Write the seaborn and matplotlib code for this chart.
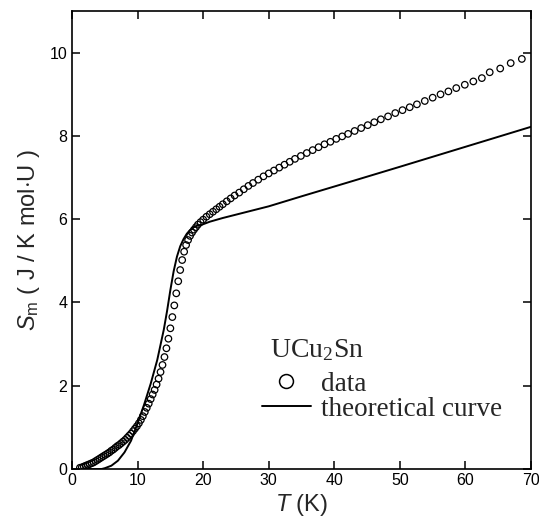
import numpy as np
import pandas as pd
import seaborn as sns
import matplotlib.pyplot as plt
from matplotlib.lines import Line2D

T_data = [1.2, 1.5, 1.8, 2.1, 2.4, 2.7, 3.0, 3.3, 3.6, 3.9, 4.2, 4.5, 4.8, 5.1, 5.4,
          5.7, 6.0, 6.3, 6.6, 6.9, 7.2, 7.5, 7.8, 8.1, 8.4, 8.7, 9.0, 9.3, 9.6, 9.9,
          10.2, 10.5, 10.8, 11.1, 11.4, 11.7, 12.0, 12.3, 12.6, 12.9, 13.2, 13.5, 13.8,
          14.1, 14.4, 14.7, 15.0, 15.3, 15.6, 15.9, 16.2, 16.5, 16.8, 17.1, 17.4, 17.7,
          18.0, 18.3, 18.6, 18.9, 19.2, 19.6, 20.0, 20.5, 21.0, 21.5, 22.0, 22.5, 23.0,
          23.6, 24.2, 24.8, 25.5, 26.2, 26.9, 27.6, 28.4, 29.2, 30.0, 30.8, 31.6, 32.4,
          33.2, 34.0, 34.9, 35.8, 36.7, 37.6, 38.5, 39.4, 40.3, 41.2, 42.1, 43.1, 44.1,
          45.1, 46.1, 47.1, 48.2, 49.3, 50.4, 51.5, 52.6, 53.8, 55.0, 56.2, 57.4, 58.6,
          59.9, 61.2, 62.5, 63.7, 65.3, 66.9, 68.6]
S_data = [0.03, 0.04, 0.06, 0.08, 0.10, 0.12, 0.14, 0.16, 0.19, 0.22, 0.25, 0.28, 0.31,
          0.34, 0.37, 0.40, 0.44, 0.47, 0.51, 0.55, 0.58, 0.62, 0.66, 0.70, 0.75, 0.80,
          0.85, 0.91, 0.97, 1.03, 1.10, 1.18, 1.27, 1.37, 1.47, 1.57, 1.68, 1.79, 1.90,
          2.03, 2.17, 2.33, 2.50, 2.69, 2.90, 3.13, 3.38, 3.65, 3.93, 4.22, 4.51, 4.78,
          5.02, 5.22, 5.38, 5.50, 5.60, 5.68, 5.75, 5.81, 5.87, 5.93, 5.99, 6.06, 6.12,
          6.18, 6.24, 6.30, 6.36, 6.43, 6.50, 6.57, 6.64, 6.72, 6.80, 6.87, 6.95, 7.03,
          7.10, 7.17, 7.24, 7.31, 7.38, 7.45, 7.52, 7.59, 7.66, 7.73, 7.80, 7.86, 7.93,
          7.99, 8.05, 8.12, 8.19, 8.26, 8.33, 8.40, 8.47, 8.55, 8.62, 8.69, 8.76, 8.84,
          8.92, 9.00, 9.07, 9.15, 9.23, 9.31, 9.39, 9.53, 9.62, 9.75, 9.85]

# theoretical curve
T_theory = [2.0, 4.5, 5.0, 6.0, 7.0, 8.0, 9.0, 10.0, 11.0, 12.0, 13.0, 14.0, 14.5, 15.0,
            15.5, 16.0, 16.5, 17.0, 17.5, 18.0, 18.5, 19.0, 20.0, 21.0, 23.0, 26.0, 30.0,
            35.0, 42.0, 50.0, 60.0, 70.0]
S_theory = [0.0, 0.0, 0.02, 0.08, 0.20, 0.40, 0.68, 1.10, 1.55, 2.05, 2.62, 3.35, 3.80,
            4.30, 4.75, 5.10, 5.35, 5.52, 5.65, 5.74, 5.80, 5.84, 5.88, 5.94, 6.03, 6.15,
            6.31, 6.55, 6.88, 7.26, 7.74, 8.22]

data = pd.DataFrame({'T': T_data, 'S': S_data})
theory = pd.DataFrame({'T': T_theory, 'S': S_theory})

sns.set_theme(style='ticks')
plt.rcParams['font.family'] = ['Liberation Sans', 'DejaVu Sans']
plt.rcParams['mathtext.fontset'] = 'custom'
plt.rcParams['mathtext.rm'] = 'Liberation Sans'
plt.rcParams['mathtext.it'] = 'Liberation Sans:italic'
plt.rcParams['mathtext.sf'] = 'Liberation Sans'

fig = plt.figure(figsize=(5.39, 5.27), dpi=100)
ax = fig.add_axes([0.1336, 0.110, 0.8516, 0.869])

sns.lineplot(data=theory, x='T', y='S', sort=False, color='black', linewidth=1.4, ax=ax)
sns.scatterplot(data=data, x='T', y='S', marker='o', s=22, facecolors='none',
                edgecolor='black', linewidth=0.9, ax=ax, zorder=3)

ax.set_xlim(0, 70)
ax.set_ylim(0, 11)
ax.set_xticks(range(0, 71, 10))
ax.set_yticks(range(0, 11, 2))
ax.tick_params(direction='in', length=6, width=1.1, top=True, right=True,
               labelsize=11.5, colors='black')
ax.tick_params(axis='x', pad=3)
for sp in ax.spines.values():
    sp.set_linewidth(1.2)
    sp.set_color('black')

ax.set_xlabel(r'$\mathit{T}$ (K)', fontsize=17, labelpad=3)
ax.set_ylabel(r'$\mathit{S}_\mathregular{m}$ ( J / K mol$\cdot$U )', fontsize=17, labelpad=5)

# legend title as a separate text, entries below it
ax.text(0.431, 0.260, r'UCu$\mathregular{_2}$Sn', transform=ax.transAxes,
        family='Liberation Serif', fontsize=20, ha='left', va='center')
handles = [
    Line2D([], [], marker='o', linestyle='none', markersize=10, markerfacecolor='none',
           markeredgecolor='black', markeredgewidth=1.1),
    Line2D([], [], color='black', linewidth=1.4),
]
leg = ax.legend(handles, ['data', 'theoretical curve'],
                loc='upper left', bbox_to_anchor=(0.414, 0.212), frameon=False,
                prop={'family': 'Liberation Serif', 'size': 19.5},
                handlelength=1.8, handletextpad=0.36,
                labelspacing=0.0, borderpad=0, borderaxespad=0)

fig.savefig('out.png', dpi=100, facecolor='white')
